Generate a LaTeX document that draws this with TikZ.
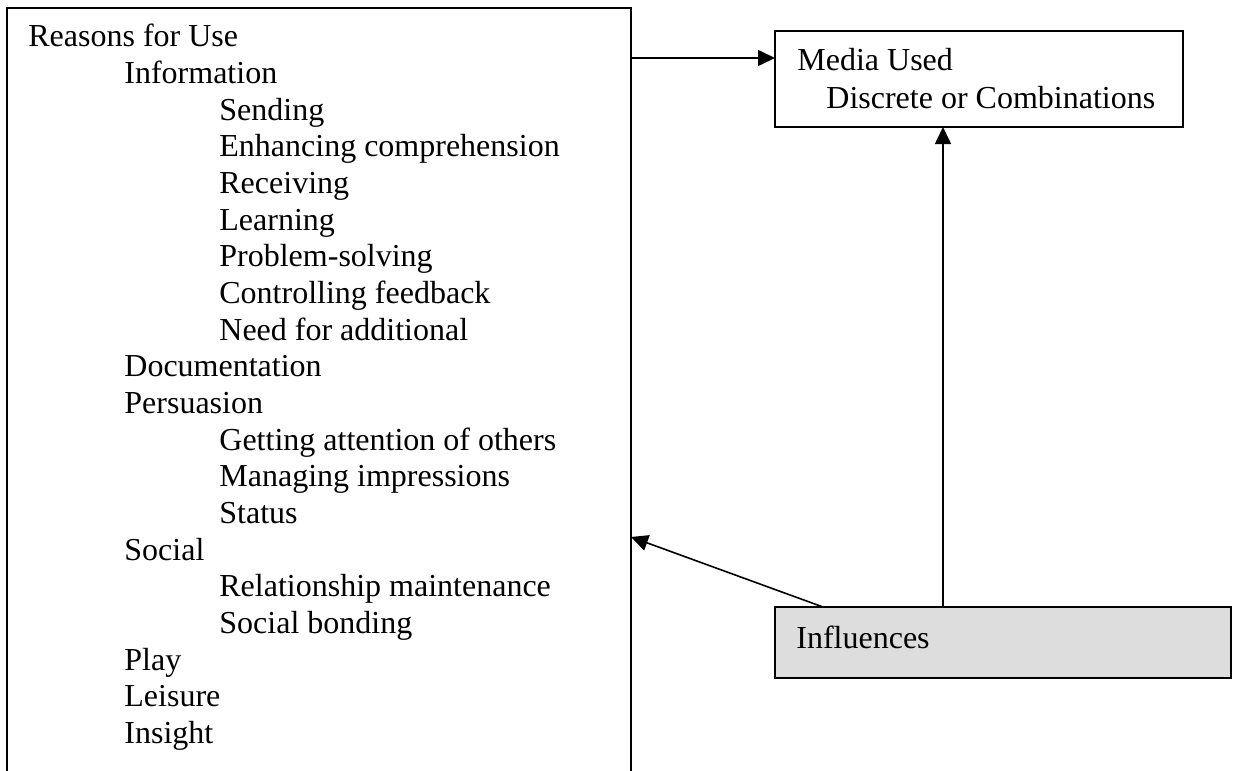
\documentclass[tikz,border=0pt]{standalone}
\usepackage{fontspec}
\setmainfont{Liberation Serif}
\usetikzlibrary{arrows.meta}
\definecolor{inflgray}{RGB}{221,221,221}
\begin{document}
\begin{tikzpicture}[x=0.5pt,y=-0.5pt,
  frame/.style={draw=black, line width=0.8pt, inner sep=0pt, outer sep=0pt},
  itemtext/.style={anchor=base west, inner sep=0pt, font=\fontsize{16}{18}\selectfont},
  arr/.style={-{Triangle[length=8.5pt,width=8pt]}, line width=0.8pt}]
\clip (0,0) rectangle (1233,771);
\fill[white] (0,0) rectangle (1233,771);

% boxes
\node[frame, anchor=north west, minimum width=312pt, minimum height=410pt] (reasons) at (7,8) {};
\node[frame, anchor=north west, minimum width=204pt, minimum height=48pt] (media) at (775,31) {};
\node[frame, fill=inflgray, anchor=north west, minimum width=228pt, minimum height=35.5pt] (infl) at (775,607) {};

% outline of reasons
\foreach \t/\x [count=\i from 0] in {
  Reasons for Use/28,
  Information/124,
  Sending/219,
  Enhancing comprehension/219,
  Receiving/219,
  Learning/219,
  Problem-solving/219,
  Controlling feedback/219,
  Need for additional/219,
  Documentation/124,
  Persuasion/124,
  Getting attention of others/219,
  Managing impressions/219,
  Status/219,
  Social/124,
  Relationship maintenance/219,
  Social bonding/219,
  Play/124,
  Leisure/124,
  Insight/124}
  \node[itemtext] (r\i) at (\x,{46.67+36.67*\i}) {\t};

% media text
\node[itemtext] (mediaA) at (797,70.7) {Media Used};
\node[itemtext] (mediaB) at (826,108.3) {Discrete or Combinations};

% influences text
\node[itemtext] (inflA) at (796,648) {Influences};

% connectors
\coordinate (mediaIn) at ([yshift=10.5pt]media.west);
\coordinate (inflUp) at ([xshift=-30pt]infl.north);
\coordinate (inflLeft) at ([xshift=-90pt]infl.north);
\coordinate (reasonsIn) at ([yshift=-264.5pt]reasons.north east);
\draw[arr] (reasons.east |- mediaIn) -- (mediaIn);
\draw[arr] (inflUp) -- (inflUp |- media.south);
\draw[arr] (inflLeft) -- (reasonsIn);
\end{tikzpicture}
\end{document}
